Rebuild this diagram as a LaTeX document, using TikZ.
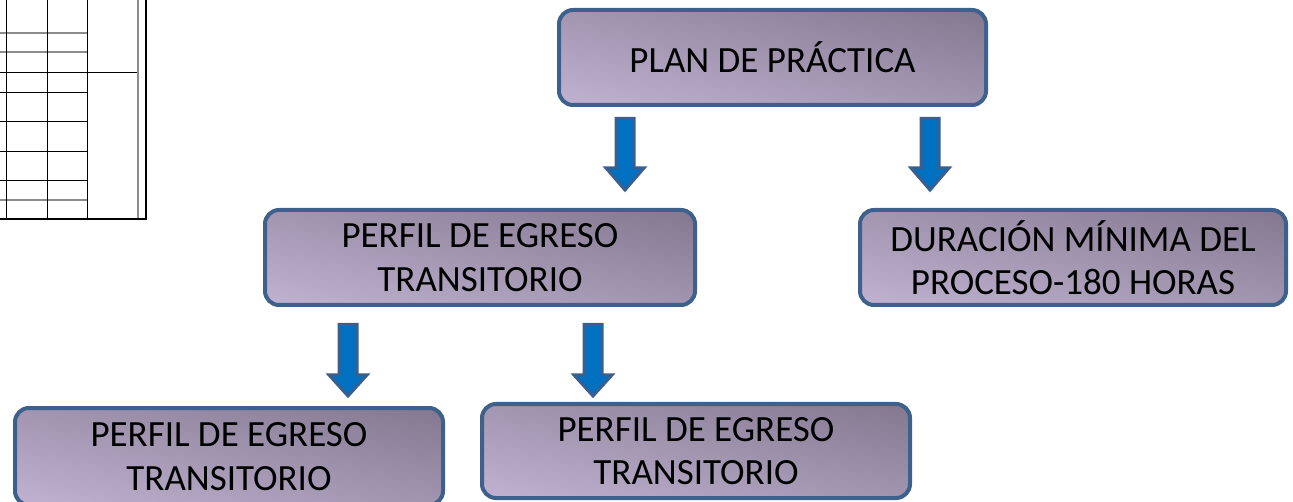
\documentclass[tikz,border=0pt]{standalone}
\usepackage{fontspec}
\setmainfont{Carlito}
\definecolor{bordc}{RGB}{62,96,140}
\definecolor{lightc}{RGB}{212,198,230}
\definecolor{darkc}{RGB}{112,100,122}
\definecolor{arrfill}{RGB}{0,112,192}
\definecolor{arrbord}{RGB}{58,95,143}
\pgfdeclareverticalshading{boxgrad}{100bp}{color(0bp)=(lightc); color(100bp)=(darkc)}
\newcommand{\blkarrow}[4]{%
  \draw[arrowstyle] (#1-9,#2) -- (#1+9,#2) -- (#1+9,#3) -- (#1+19,#3) -- (#1,#4) -- (#1-19,#3) -- (#1-9,#3) -- cycle;}
\begin{document}
\begin{tikzpicture}[x=1pt,y=-1pt,
  boxstyle/.style={rectangle, rounded corners=14pt, draw=bordc, line width=4pt,
    shade, shading=boxgrad, shading angle=-13,
    inner sep=0pt, align=center, text=black,
    font=\fontsize{37}{43.5}\selectfont},
  arrowstyle/.style={draw=arrbord, fill=arrfill, line width=3pt, line join=miter},
  tblline/.style={line width=0.8pt, black},
  tblgray/.style={line width=1.2pt, black!45}]
\useasboundingbox (0,0) rectangle (1293,502);
\clip (0,0) rectangle (1293,502);
% partial table at top-left
\draw[tblgray] (0,33) -- (87,33);
\draw[tblgray] (0,52) -- (87,52);
\draw[tblline] (0,72) -- (138,72);
\draw[tblline] (0,92) -- (87,92);
\draw[tblline] (0,121) -- (87,121);
\draw[tblline] (0,151) -- (87,151);
\draw[tblline] (0,180) -- (87,180);
\draw[tblgray] (0,200) -- (87,200);
\draw[tblline] (6,0) -- (6,219);
\draw[tblline] (47,0) -- (47,219);
\draw[tblline] (87,0) -- (87,219);
\draw[tblgray] (138,0) -- (138,219);
\draw[line width=2.5pt, black] (0,219) -- (146,219) -- (146,0);
% boxes
\node[boxstyle, minimum width=427pt, minimum height=95pt] (plan) at (772.5,57.5) {PLAN DE PRÁCTICA};
\node[boxstyle, minimum width=430pt, minimum height=95pt] (perfil) at (480,257.5) {PERFIL DE EGRESO\\TRANSITORIO};
\node[boxstyle, minimum width=426pt, minimum height=95pt] (dur) at (1073,257.5) {DURACIÓN MÍNIMA DEL\\PROCESO-180 HORAS};
\node[boxstyle, minimum width=428pt, minimum height=97pt] (pa) at (229,456.5) {PERFIL DE EGRESO\\TRANSITORIO};
\node[boxstyle, minimum width=428pt, minimum height=94pt] (pb) at (696,451) {PERFIL DE EGRESO\\TRANSITORIO};
% block arrows
\blkarrow{625}{118.5}{168}{190}
\blkarrow{930}{118.5}{168}{190}
\blkarrow{348}{324.5}{375}{396}
\blkarrow{593}{324.5}{375}{396}
\end{tikzpicture}
\end{document}
